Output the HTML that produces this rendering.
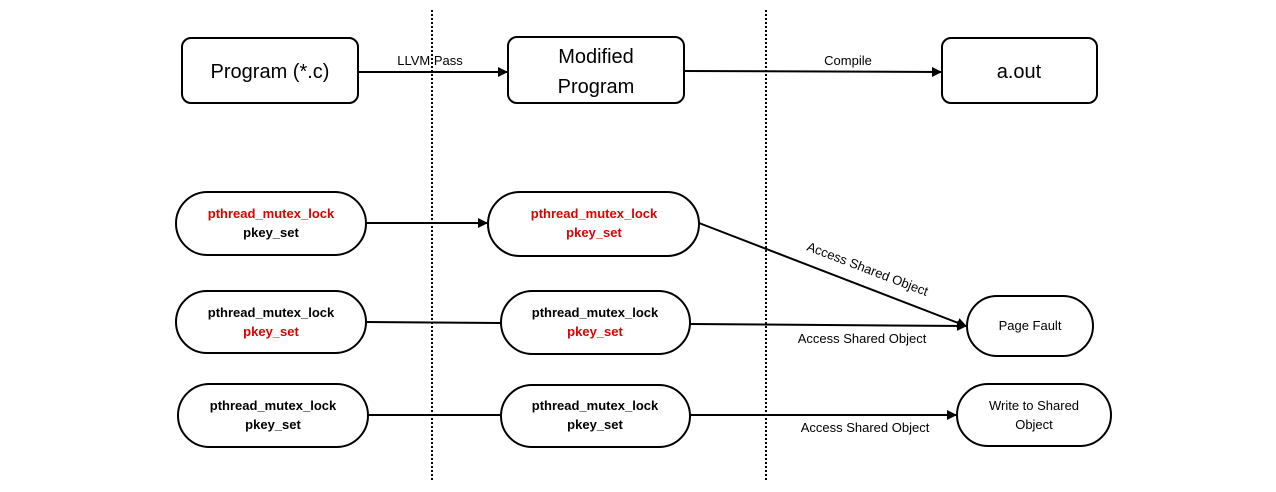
<!DOCTYPE html>
<html><head><meta charset="utf-8"><style>body{margin:0;background:#fff}svg{display:block}</style></head><body>
<svg width="1276" height="492" viewBox="0 0 1276 492" xmlns="http://www.w3.org/2000/svg" font-family="'Liberation Sans', sans-serif">
<defs><marker id="a" markerWidth="10" markerHeight="10" refX="9" refY="5" orient="auto" markerUnits="userSpaceOnUse"><path d="M0,0 L10,5 L0,10 z" fill="#000"/></marker></defs>
<g stroke="#000" stroke-width="2" stroke-dasharray="2,2"><line x1="432" y1="10" x2="432" y2="482"/><line x1="766" y1="10" x2="766" y2="482"/></g>
<g fill="#fff" stroke="#000" stroke-width="2">
<rect x="182" y="38" width="176" height="65" rx="9"/>
<rect x="508" y="37" width="176" height="66" rx="9"/>
<rect x="942" y="38" width="155" height="65" rx="9"/>
<rect x="176" y="192" width="190" height="63" rx="31.5"/>
<rect x="488" y="192" width="211" height="64" rx="32"/>
<rect x="176" y="291" width="190" height="62" rx="31"/>
<rect x="501" y="291" width="189" height="63" rx="31.5"/>
<rect x="967" y="296" width="126" height="60" rx="30"/>
<rect x="178" y="384" width="190" height="63" rx="31.5"/>
<rect x="501" y="385" width="189" height="62" rx="31"/>
<rect x="957" y="384" width="154" height="62" rx="31"/>
</g>
<g stroke="#000" stroke-width="2" marker-end="url(#a)">
<line x1="358" y1="72" x2="507" y2="72"/>
<line x1="684" y1="71" x2="941" y2="72"/>
<line x1="366" y1="223" x2="487" y2="223"/>
<line x1="699" y1="223" x2="966" y2="326"/>
<line x1="690" y1="324" x2="966" y2="326"/>
<line x1="690" y1="415" x2="956" y2="415"/>
</g>
<g stroke="#000" stroke-width="2"><line x1="366" y1="322" x2="501" y2="323"/><line x1="368" y1="415" x2="501" y2="415"/></g>
<g font-size="20" text-anchor="middle" fill="#000">
<text x="270" y="78">Program (*.c)</text>
<text x="596" y="63">Modified</text><text x="596" y="93">Program</text>
<text x="1019" y="78">a.out</text>
</g>
<g font-size="13" text-anchor="middle" fill="#000">
<text x="430" y="65">LLVM Pass</text>
<text x="848" y="65">Compile</text>
<text x="862" y="343">Access Shared Object</text>
<text x="865" y="432">Access Shared Object</text>
<text x="1030" y="330">Page Fault</text>
<text x="1034" y="410">Write to Shared</text><text x="1034" y="429">Object</text>
<text transform="translate(866,273) rotate(21)">Access Shared Object</text>
</g>
<g font-size="13" font-weight="bold" text-anchor="middle">
<text x="271" y="218" fill="#e00000">pthread_mutex_lock</text><text x="271" y="237" fill="#000">pkey_set</text>
<text x="594" y="218" fill="#e00000">pthread_mutex_lock</text><text x="594" y="237" fill="#e00000">pkey_set</text>
<text x="271" y="317" fill="#000">pthread_mutex_lock</text><text x="271" y="336" fill="#e00000">pkey_set</text>
<text x="595" y="317" fill="#000">pthread_mutex_lock</text><text x="595" y="336" fill="#e00000">pkey_set</text>
<text x="273" y="410" fill="#000">pthread_mutex_lock</text><text x="273" y="429" fill="#000">pkey_set</text>
<text x="595" y="410" fill="#000">pthread_mutex_lock</text><text x="595" y="429" fill="#000">pkey_set</text>
</g>
</svg>
</body></html>
